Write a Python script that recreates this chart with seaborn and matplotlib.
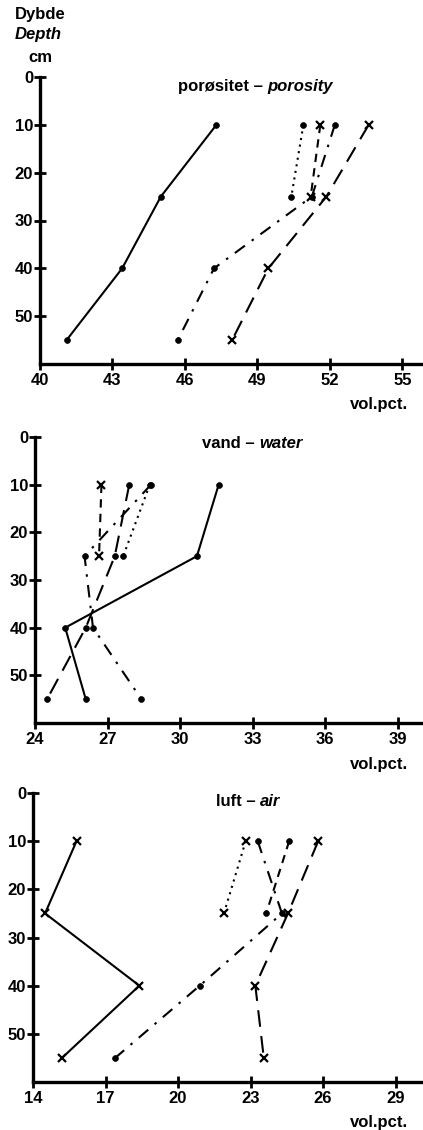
import matplotlib
matplotlib.use("Agg")
import matplotlib.pyplot as plt
import seaborn as sns
import pandas as pd

# Sampling depths (cm)
depths_full = [10, 25, 40, 55]
depths_top = [10, 25]

# Porosity (vol.pct.)
por_solid = [47.3, 45.0, 43.4, 41.1]
por_dotted = [50.9, 50.4]
por_short = [51.6, 51.2]
por_dashdot = [52.2, 51.25, 47.2, 45.7]
por_long = [53.6, 51.85, 49.45, 47.95]
por_ticks = [40, 43, 46, 49, 52, 55]

# Water (vol.pct.)
wat_solid = [31.6, 30.7, 25.25, 26.1]
wat_dotted = [28.75, 27.65]
wat_short = [26.75, 26.65]
wat_dashdot = [28.8, 26.05, 26.4, 28.4]
wat_long = [27.9, 27.3, 26.1, 24.5]
wat_ticks = [24, 27, 30, 33, 36, 39]

# Air (vol.pct.)
air_solid = [15.8, 14.5, 18.4, 15.2]
air_dotted = [22.8, 21.9]
air_short = [24.6, 23.65]
air_dashdot = [23.3, 24.3, 20.9, 17.4]
air_long = [25.8, 24.55, 23.2, 23.55]
air_ticks = [14, 17, 20, 23, 26, 29]

depth_ticks = [0, 10, 20, 30, 40, 50]

sns.set_theme(style="ticks")
plt.rcParams["font.family"] = ["Liberation Sans", "DejaVu Sans"]
plt.rcParams["font.weight"] = "bold"
plt.rcParams["text.color"] = "black"

W, H = 423, 1130
FS = 12
fig = plt.figure(figsize=(W / 100, H / 100), dpi=100)
fig.patch.set_facecolor("white")


def fx(px):
    return px / W


def fy(py):
    return 1 - py / H


line_styles = {
    "solid": "-",
    "dotted": (0, (1, 2.2)),
    "short": (0, (4, 3)),
    "dashdot": (0, (6, 4, 1.2, 4)),
    "long": (0, (8, 4.5)),
}

panels = [
    dict(
        rect=(40, 77, 421, 364), xmin=40,
        series={"solid": por_solid, "dotted": por_dotted, "short": por_short,
                "dashdot": por_dashdot, "long": por_long},
        markers={"solid": "o", "dotted": "o", "short": "x", "dashdot": "o", "long": "x"},
        ticks=por_ticks, title=("porøsitet – ", "porosity"), title_px=(255, 86),
    ),
    dict(
        rect=(35, 437, 421, 723), xmin=24,
        series={"solid": wat_solid, "dotted": wat_dotted, "short": wat_short,
                "dashdot": wat_dashdot, "long": wat_long},
        markers={"solid": "o", "dotted": "o", "short": "x", "dashdot": "o", "long": "o"},
        ticks=wat_ticks, title=("vand – ", "water"), title_px=(252, 443),
    ),
    dict(
        rect=(33, 793, 421, 1082), xmin=14,
        series={"solid": air_solid, "dotted": air_dotted, "short": air_short,
                "dashdot": air_dashdot, "long": air_long},
        markers={"solid": "x", "dotted": "x", "short": "o", "dashdot": "o", "long": "x"},
        ticks=air_ticks, title=("luft – ", "air"), title_px=(248, 802),
    ),
]

renderer = fig.canvas.get_renderer()

for p in panels:
    l, t, r, b = p["rect"]
    ax = fig.add_axes([fx(l), fy(b), fx(r) - fx(l), (b - t) / H])
    ax.set_facecolor("white")

    for name, vals in p["series"].items():
        depths = depths_full if len(vals) == 4 else depths_top
        df = pd.DataFrame({"vol": vals, "depth": depths})
        mk = p["markers"][name]
        sns.lineplot(
            data=df, x="vol", y="depth", sort=False, estimator=None, ax=ax,
            color="black", linestyle=line_styles[name], linewidth=1.5,
            marker=mk, markersize=4.2 if mk == "o" else 5.5,
            markeredgecolor="black", markerfacecolor="black",
            markeredgewidth=1.6 if mk == "x" else 0.5, legend=False,
        )

    unit = 3 / 72.5
    ax.set_xlim(p["xmin"], p["xmin"] + (r - l) * unit)
    ax.set_ylim(60, 0)
    ax.set_xticks(p["ticks"])
    ax.set_yticks(depth_ticks)
    ax.set_xlabel("")
    ax.set_ylabel("")
    for side in ("top", "right"):
        ax.spines[side].set_visible(False)
    for side in ("left", "bottom"):
        ax.spines[side].set_linewidth(2.4)
        ax.spines[side].set_color("black")
    ax.tick_params(axis="both", direction="inout", length=8, width=2,
                   colors="black", labelsize=FS)
    ax.tick_params(axis="x", pad=2.5)
    ax.tick_params(axis="y", pad=1.0)
    for lab in ax.get_xticklabels() + ax.get_yticklabels():
        lab.set_fontweight("bold")

    # Panel title: plain Danish part followed by italic English part
    plain, italic = p["title"]
    cx, cy = p["title_px"]
    t1 = fig.text(0, fy(cy), plain, fontsize=FS, va="center", ha="left",
                  color="black")
    t2 = fig.text(0, fy(cy), italic, fontsize=FS, va="center", ha="left",
                  style="italic", color="black")
    w1 = t1.get_window_extent(renderer).width
    w2 = t2.get_window_extent(renderer).width
    start = cx - (w1 + w2) / 2
    t1.set_x(fx(start))
    t2.set_x(fx(start + w1))

    fig.text(fx(408), fy(b + 41), "vol.pct.", fontsize=FS, ha="right",
             va="center", color="black")

# Depth axis header
fig.text(fx(40), fy(15), "Dybde", fontsize=FS, ha="center", va="center",
         color="black")
fig.text(fx(38), fy(35), "Depth", fontsize=FS, ha="center", va="center",
         style="italic", color="black")
fig.text(fx(40), fy(57), "cm", fontsize=FS, ha="center", va="center",
         color="black")

fig.savefig("out.png", dpi=100, facecolor="white")
